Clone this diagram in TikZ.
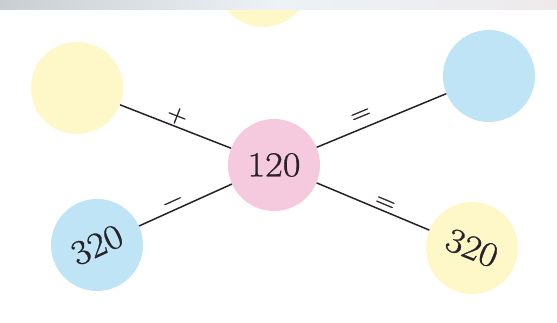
\documentclass[tikz,border=0pt]{standalone}
\usepackage{fontspec}
\newfontfamily\numfont{Latin Modern Roman}[FakeBold=0.8,FakeStretch=1.1]
\definecolor{cyel}{RGB}{254,247,200}
\definecolor{cblue}{RGB}{190,228,246}
\definecolor{cpink}{RGB}{246,202,222}
\definecolor{ink}{RGB}{40,34,40}
\definecolor{bandl}{RGB}{200,206,210}
\definecolor{bandm}{RGB}{236,242,246}
\definecolor{bandr}{RGB}{238,234,236}
\begin{document}
\begin{tikzpicture}[x=1pt,y=-1pt,
  disc/.style={circle, minimum size=92pt, inner sep=0pt, text=ink,
    font=\numfont\fontsize{35}{40}\selectfont},
  yel/.style={disc, fill=cyel},
  blu/.style={disc, fill=cblue},
  pnk/.style={disc, fill=cpink},
  link/.style={draw=ink, line width=1.5pt},
  op/.style={sloped, above, text=ink, inner sep=1.5pt,
    font=\numfont\fontsize{26}{30}\selectfont}]
\useasboundingbox (0,0) rectangle (557,322);
\clip (0,0) rectangle (557,322);
\fill[white] (0,0) rectangle (557,322);
\node[yel] (top) at (263,-19) {};
\shade[left color=bandl, right color=bandr, middle color=bandm] (0,0) rectangle (557,9);
\node[yel] (tl) at (77,88) {};
\node[blu] (tr) at (489,76) {};
\node[pnk] (c) at (274,165) {120};
\node[blu, rotate=25] (bl) at (97,245) {320};
\node[yel, rotate=-22] (br) at (472,248) {320};
\draw[link] (tl) -- node[op, pos=0.48] {+} (c);
\draw[link] (c) -- node[op, pos=0.38, above=5pt] {=} (tr);
\draw[link] (bl) -- node[op, pos=0.4] {−} (c);
\draw[link] (c) -- node[op, pos=0.58] {=} (br);
\end{tikzpicture}
\end{document}
